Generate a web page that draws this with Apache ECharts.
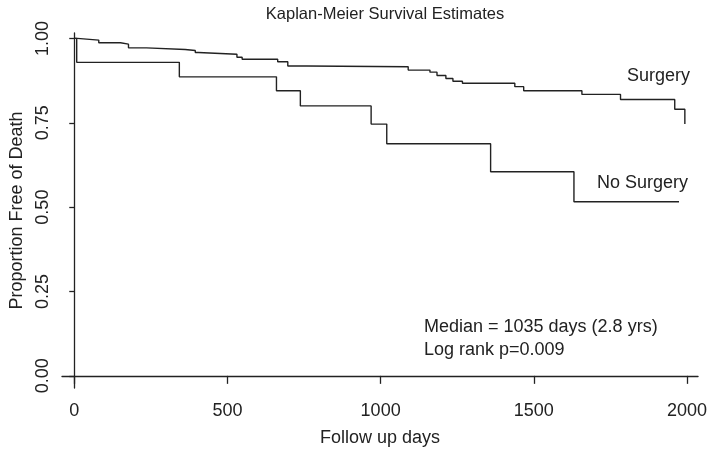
<!DOCTYPE html>
<html>
<head>
<meta charset="utf-8">
<script src="https://cdn.jsdelivr.net/npm/echarts@6/dist/echarts.min.js"></script>
<style>html,body{margin:0;padding:0;background:#fff}#c{width:710px;height:453px}</style>
</head>
<body>
<div id="c"></div>
<script>
// Surgery group: step times (days) and survival after each step
const surgeryDays = [0, 10, 80, 151, 177, 236, 362, 395, 405, 531, 548, 664, 697, 759, 1090, 1161, 1184, 1213, 1236, 1267, 1438, 1467, 1657, 1783, 1960, 1993];
const surgerySurv = [1.0, 0.995, 0.987, 0.983, 0.972, 0.967, 0.964, 0.958, 0.953, 0.944, 0.938, 0.931, 0.918, 0.916, 0.906, 0.900, 0.890, 0.881, 0.873, 0.867, 0.857, 0.845, 0.834, 0.819, 0.790, 0.746];
// No surgery group
const noSurgeryDays = [0, 8, 343, 660, 738, 969, 1020, 1359, 1631, 1974];
const noSurgerySurv = [1.0, 0.929, 0.886, 0.845, 0.800, 0.746, 0.688, 0.605, 0.516, 0.516];
// Ticks
const xTicks = [0, 500, 1000, 1500, 2000];
const yTicks = [0, 0.25, 0.5, 0.75, 1];

const FONT = 'Liberation Sans, Arial, Helvetica, sans-serif';
const FS = 18;
const zip = (a, b) => a.map((v, i) => [v, b[i]]);

const chart = echarts.init(document.getElementById('c'), null, {renderer: 'canvas'});
chart.setOption({
  animation: false,
  backgroundColor: '#fff',
  title: {
    text: 'Kaplan-Meier Survival Estimates',
    left: 380, top: 1, textAlign: 'center',
    textStyle: {fontFamily: FONT, fontSize: 16.5, fontWeight: 'normal', color: '#222'}
  },
  grid: {left: 61, right: 10, top: 33, bottom: 65, containLabel: false},
  xAxis: {
    type: 'value', min: -40, max: 2036,
    splitLine: {show: false},
    axisLine: {show: true, lineStyle: {color: '#222', width: 1.3}},
    axisTick: {show: true, length: 8, customValues: xTicks, lineStyle: {color: '#222', width: 1.3}},
    axisLabel: {customValues: xTicks, margin: 14, fontFamily: FONT, fontSize: FS, color: '#222',
      formatter: v => String(v)},
    name: 'Follow up days', nameLocation: 'middle', nameGap: 41,
    nameTextStyle: {fontFamily: FONT, fontSize: FS, color: '#222'}
  },
  yAxis: {
    type: 'value', min: -0.036, max: 1.016,
    splitLine: {show: false},
    axisLine: {show: true, lineStyle: {color: '#222', width: 1.3}},
    axisTick: {show: true, length: 5, customValues: yTicks, lineStyle: {color: '#222', width: 1.3}},
    axisLabel: {customValues: yTicks, rotate: 90, margin: 10, fontFamily: FONT, fontSize: FS, color: '#222',
      formatter: v => v.toFixed(2)},
    name: 'Proportion Free of Death', nameLocation: 'middle', nameGap: 36, nameRotate: 90,
    nameTextStyle: {fontFamily: FONT, fontSize: FS, color: '#222'}
  },
  series: [
    {type: 'line', name: 'Surgery', step: 'end', data: zip(surgeryDays, surgerySurv),
      showSymbol: false, lineStyle: {color: '#222', width: 1.4}},
    {type: 'line', name: 'No Surgery', step: 'end', data: zip(noSurgeryDays, noSurgerySurv),
      showSymbol: false, lineStyle: {color: '#222', width: 1.4}}
  ],
  graphic: [
    {type: 'text', left: 627, top: 67, style: {text: 'Surgery', fontFamily: FONT, fontSize: FS, fill: '#222'}},
    {type: 'text', left: 597, top: 174, style: {text: 'No Surgery', fontFamily: FONT, fontSize: FS, fill: '#222'}},
    {type: 'text', left: 424, top: 318, style: {text: 'Median = 1035 days (2.8 yrs)', fontFamily: FONT, fontSize: FS, fill: '#222'}},
    {type: 'text', left: 424, top: 341, style: {text: 'Log rank p=0.009', fontFamily: FONT, fontSize: FS, fill: '#222'}}
  ]
});
</script>
</body>
</html>
